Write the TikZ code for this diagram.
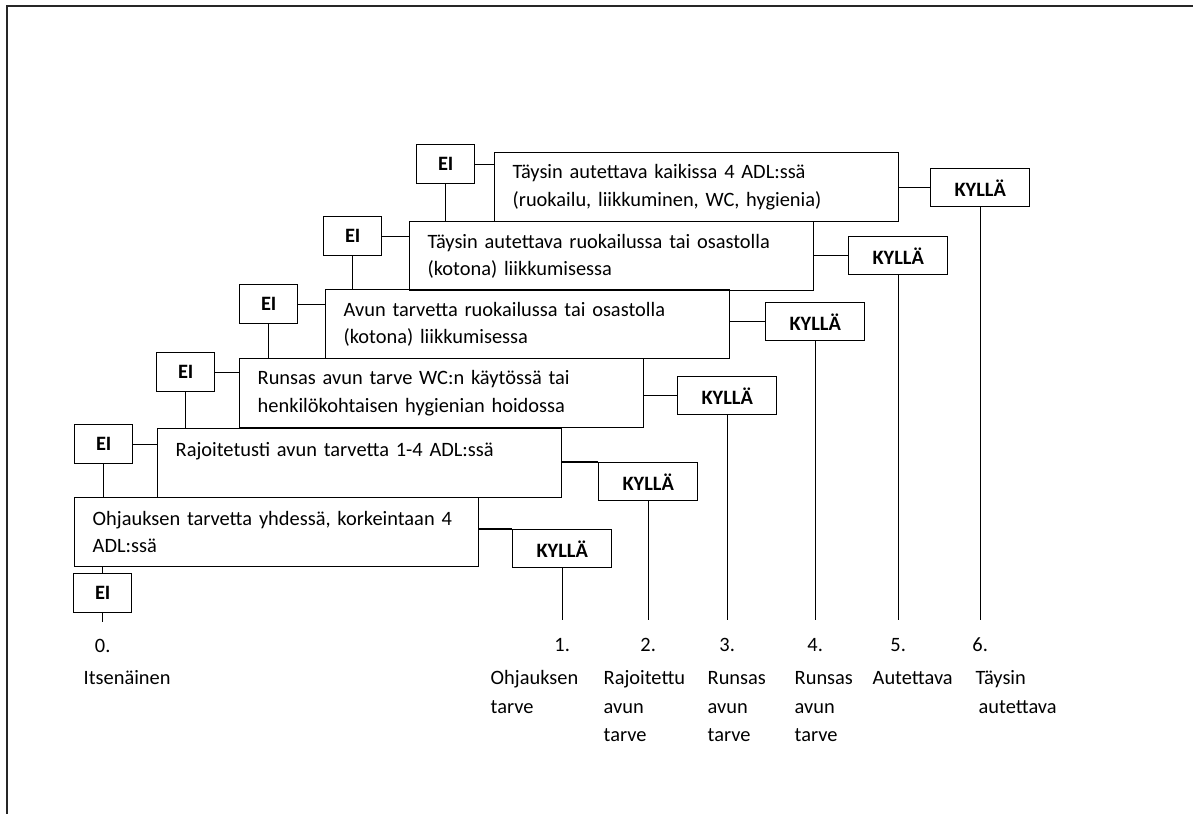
\documentclass[tikz,border=0pt]{standalone}
\usepackage{fontspec}
\setmainfont{Carlito}
\begin{document}
\begin{tikzpicture}[x=0.5pt,y=-0.5pt,line width=0.7pt,
    every node/.style={font=\fontsize{10.2}{13.75}\selectfont},
    stage/.style={draw,anchor=north west,align=left,text width=184pt,
      inner xsep=9pt,inner ysep=0pt,minimum height=34.5pt},
    ei/.style={draw,anchor=north west,font=\fontsize{10.2}{13.75}\selectfont\bfseries,
      minimum width=29pt,minimum height=19.5pt,inner sep=0pt},
    kylla/.style={ei,minimum width=49.5pt,minimum height=19pt},
    num/.style={anchor=base,inner sep=0pt},
    grade/.style={anchor=north west,align=left,text width=48pt,inner sep=0pt,
      font=\fontsize{10.2}{14.25}\selectfont,execute at begin node={\strut}}]

      \useasboundingbox (0,0) rectangle (1193,814);
      \draw[line width=1.3pt,black!85] (1193,6) -- (7,6) -- (7,814);

      \node[stage] (b1) at (74,497)  {Ohjauksen tarvetta yhdessä, korkeintaan 4\\ADL:ssä};
      \node[stage] (b2) at (157,428) {Rajoitetusti avun tarvetta 1-4 ADL:ssä\\\mbox{}};
      \node[stage] (b3) at (239,358) {Runsas avun tarve WC:n käytössä tai\\henkilökohtaisen hygienian hoidossa};
      \node[stage] (b4) at (325,289) {Avun tarvetta ruokailussa tai osastolla\\(kotona) liikkumisessa};
      \node[stage] (b5) at (409,221) {Täysin autettava ruokailussa tai osastolla\\(kotona) liikkumisessa};
      \node[stage] (b6) at (494,152) {Täysin autettava kaikissa 4 ADL:ssä\\(ruokailu, liikkuminen, WC, hygienia)};

      \node[ei] (ei1) at (73,573)  {EI};
      \node[ei] (ei2) at (74,424)  {EI};
      \node[ei] (ei3) at (156,352) {EI};
      \node[ei] (ei4) at (239,284) {EI};
      \node[ei] (ei5) at (323,216) {EI};
      \node[ei] (ei6) at (416,144) {EI};

      \node[kylla] (k1) at (512,529) {KYLLÄ};
      \node[kylla] (k2) at (598,462) {KYLLÄ};
      \node[kylla] (k3) at (677,376) {KYLLÄ};
      \node[kylla] (k4) at (765,302) {KYLLÄ};
      \node[kylla] (k5) at (848,236) {KYLLÄ};
      \node[kylla] (k6) at (930,168) {KYLLÄ};

      \coordinate (e0) at (ei1.south |- 0,622);
      \coordinate (e1) at (k1.south |- 0,620);
      \coordinate (e2) at (k2.south |- 0,620);
      \coordinate (e3) at (k3.south |- 0,620);
      \coordinate (e4) at (k4.south |- 0,620);
      \coordinate (e5) at (k5.south |- 0,620);
      \coordinate (e6) at (k6.south |- 0,620);

      \node[num] (n0) at (e0 |- 0,652) {0.};
      \node[num] (n1) at (e1 |- 0,651) {1.};
      \node[num] (n2) at (e2 |- 0,651) {2.};
      \node[num] (n3) at (e3 |- 0,651) {3.};
      \node[num] (n4) at (e4 |- 0,651) {4.};
      \node[num] (n5) at (e5 |- 0,651) {5.};
      \node[num] (n6) at (e6 |- 0,651) {6.};

      \node[grade] (g0) at (83,664)  {Itsenäinen};
      \node[grade] (g1) at (490,664) {Ohjauksen\\tarve};
      \node[grade] (g2) at (603,664) {Rajoitettu\\avun\\tarve};
      \node[grade] (g3) at (707,664) {Runsas\\avun\\tarve};
      \node[grade] (g4) at (794,664) {Runsas\\avun\\tarve};
      \node[grade] (g5) at (872,664) {Autettava};
      \node[grade] (g6) at (975,664) {Täysin\\\hspace*{1.5pt}autettava};

      \begin{scope}[every edge/.style={draw}]
        % EI -> next level
        \path (ei2.east) edge (ei2.east -| b2.west);
        \path (ei3.east) edge (ei3.east -| b3.west);
        \path (ei4.east) edge (ei4.east -| b4.west);
        \path (ei5.east) edge (ei5.east -| b5.west);
        \path (ei6.east) edge (ei6.east -| b6.west);
        \path (ei2.south) edge (ei2.south |- b1.north);
        \path (ei3.south) edge (ei3.south |- b2.north);
        \path (ei4.south) edge (ei4.south |- b3.north);
        \path (ei5.south) edge (ei5.south |- b4.north);
        \path (ei6.south) edge (ei6.south |- b5.north);
        \path (ei1.north |- b1.south) edge (ei1.north);
        \path (ei1.south) edge (e0);

        % KYLLÄ
        \path (b1.east |- k1.north west) edge (k1.north west);
        \path (b2.east |- k2.north west) edge (k2.north west);
        \path (k3.west -| b3.east) edge (k3.west);
        \path (k4.west -| b4.east) edge (k4.west);
        \path (k5.west -| b5.east) edge (k5.west);
        \path (k6.west -| b6.east) edge (k6.west);
        \path (k1.south) edge (e1);
        \path (k2.south) edge (e2);
        \path (k3.south) edge (e3);
        \path (k4.south) edge (e4);
        \path (k5.south) edge (e5);
        \path (k6.south) edge (e6);
      \end{scope}

    \end{tikzpicture}
\end{document}
